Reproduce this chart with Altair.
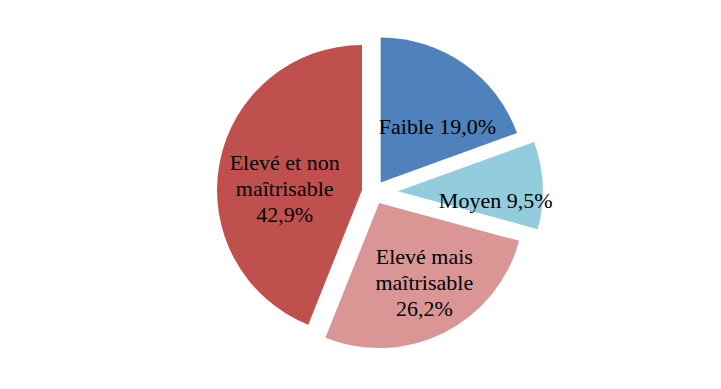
import math
import altair as alt
import pandas as pd

# ---- data ----
categories = ["Faible", "Moyen", "Elevé mais maîtrisable", "Elevé et non maîtrisable"]
values = [19.0, 9.5, 26.2, 42.9]
labels = ["Faible 19,0%", "Moyen 9,5%", "Elevé mais\nmaîtrisable\n26,2%", "Elevé et non\nmaîtrisable\n42,9%"]

# ---- styling ----
colors = ["#4F81BD", "#93CDDD", "#D99694", "#C0504D"]
explode = [12, 24, 12, 12]          # radial explosion per slice (px)
nudge_x = [4, 6, 4, 13]             # label fine-tuning (px)
nudge_y = [20, 14, -2, 16]

W, H = 721, 389
CX, CY = 373.8, 192.3               # pie centre
R = 145                             # pie radius
RL = 92                             # label radius
LH = 26                             # label line height
total = sum(values)

df = pd.DataFrame({
    "cat": categories,
    "value": values,
    "label": labels,
    "order": list(range(len(values))),
    "explode": explode,
    "nx": nudge_x,
    "ny": nudge_y,
})

base = (
    alt.Chart(df)
    .transform_window(cum="sum(value)", sort=[alt.SortField("order")], frame=[None, 0])
    .transform_joinaggregate(total="sum(value)")
    .transform_calculate(
        start="datum.cum - datum.value",
        mid="(datum.cum - datum.value / 2) / datum.total * 2 * PI",
        nlines="length(split(datum.label, '\\n'))",
    )
    .transform_calculate(
        cx=f"{CX} + datum.explode * sin(datum.mid)",
        cy=f"{CY} - datum.explode * cos(datum.mid)",
    )
    .transform_calculate(
        lx=f"datum.cx + {RL} * sin(datum.mid) + datum.nx",
        ly=f"datum.cy - {RL} * cos(datum.mid) + datum.ny - (datum.nlines - 1) / 2 * {LH}",
    )
)

arcs = base.mark_arc(radius=R).encode(
    theta=alt.Theta("start:Q", stack=False,
                    scale=alt.Scale(domain=[0, total], range=[0, 2 * math.pi])),
    theta2="cum:Q",
    x=alt.X("cx:Q", scale=None),
    y=alt.Y("cy:Q", scale=None),
    color=alt.Color("cat:N", scale=alt.Scale(domain=categories, range=colors), legend=None),
)

text = base.mark_text(
    font="Liberation Serif", fontSize=22, lineBreak="\n", lineHeight=LH,
    align="center", baseline="middle", color="black",
).encode(
    x=alt.X("lx:Q", scale=None),
    y=alt.Y("ly:Q", scale=None),
    text="label:N",
)

chart = (
    alt.layer(arcs, text)
    .properties(width=W, height=H, padding=0, autosize=alt.AutoSizeParams(type="none"),
                background="white")
    .configure_view(stroke=None)
)

chart.save("out.html", embed_options={"renderer": "svg", "actions": False})
